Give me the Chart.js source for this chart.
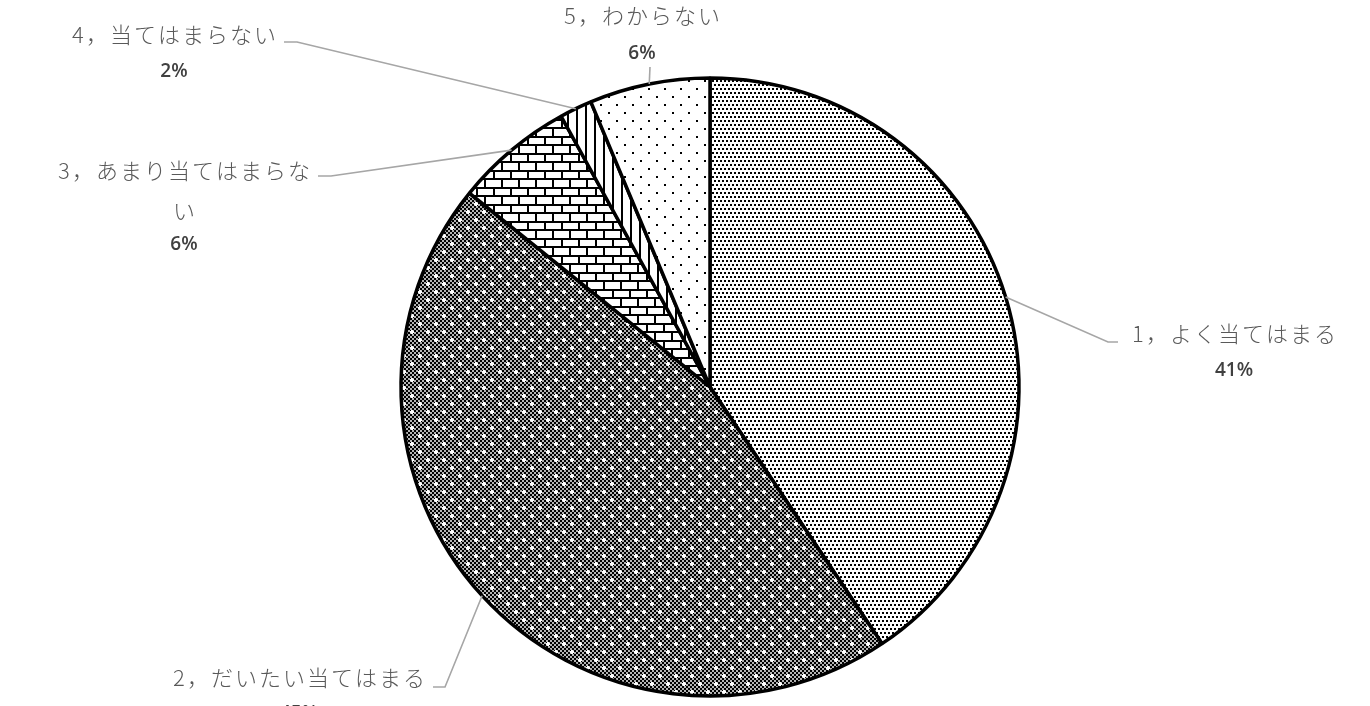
<!DOCTYPE html>
<html lang="ja">
<head>
<meta charset="utf-8">
<script src="https://cdn.jsdelivr.net/npm/chart.js@4"></script>
<style>
  html, body { margin: 0; padding: 0; background: #fff; }
  #wrap { width: 1370px; height: 706px; position: relative; }
</style>
</head>
<body>
<div id="wrap"><canvas id="chart1"></canvas></div>
<script>
// data (percent of answers)
const categories = ['1，よく当てはまる', '2，だいたい当てはまる', '3，あまり当てはまらない', '4，当てはまらない', '5，わからない'];
const shares = [40.6, 45.2, 6.2, 1.7, 6.3];

// where each data label sits (name centre, percent line, leader elbow)
const labelLayout = [
  { cx: 1234, nameY: 334, pctY: 371, maxW: 400, elbow: [[1108, 342], [1118, 342]] },
  { cx: 299, nameY: 678, pctY: 714, maxW: 400, elbow: [[445, 687], [433, 687]] },
  { cx: 184, nameY: 171, pctY: 245, maxW: 268, elbow: [[331, 176], [318, 176]] },
  { cx: 174, nameY: 35, pctY: 72, maxW: 400, elbow: [[297, 42], [284, 42]] },
  { cx: 642, nameY: 16, pctY: 54, maxW: 400, elbow: [[650, 67]] }
];

function tile(size, bg, draw) {
  const c = document.createElement('canvas');
  c.width = size; c.height = size;
  const g = c.getContext('2d');
  g.fillStyle = bg;
  g.fillRect(0, 0, size, size);
  g.fillStyle = '#000';
  draw(g);
  return document.getElementById('chart1').getContext('2d').createPattern(c, 'repeat');
}

// fine dots
const patFine = tile(8, '#fff', g => {
  for (let y = 0; y < 8; y += 4) {
    for (let x = 0; x < 8; x += 4) {
      g.fillRect(x + (y % 8 ? 2 : 0), y, 2, 2);
    }
  }
});
// dark checker with small white crosses
const patDark = tile(16, '#b4b4b4', g => {
  for (let y = 0; y < 16; y += 2) {
    for (let x = 0; x < 16; x += 2) {
      if (((x + y) / 2) % 2 === 0) g.fillRect(x, y, 2, 2);
    }
  }
  g.fillStyle = '#fff';
  [[4, 4], [12, 12]].forEach(([x, y]) => {
    g.fillRect(x - 2, y - 1, 4, 2);
    g.fillRect(x - 1, y - 2, 2, 4);
  });
});
// bricks
const patBrick = tile(17, '#fff', g => {
  g.fillRect(0, 0, 17, 2);
  g.fillRect(0, 8, 17, 2);
  g.fillRect(0, 2, 2, 6);
  g.fillRect(8, 10, 2, 7);
});
// vertical lines
const patVert = tile(9, '#fff', g => {
  g.fillRect(0, 0, 2, 9);
});
// sparse dots
const patSparse = tile(16, '#fff', g => {
  g.fillRect(0, 0, 2, 2);
  g.fillRect(8, 8, 2, 2);
});

const total = shares.reduce((a, b) => a + b, 0);
const pctLabels = shares.map(v => Math.round(v / total * 100) + '%');

function wrapText(ctx, text, maxW) {
  const lines = [];
  let cur = '';
  for (const ch of text) {
    if (cur && ctx.measureText(cur + ch).width > maxW) {
      lines.push(cur);
      cur = ch;
    } else {
      cur += ch;
    }
  }
  if (cur) lines.push(cur);
  return lines;
}

const calloutPlugin = {
  id: 'callouts',
  afterDatasetsDraw(chart) {
    const ctx = chart.ctx;
    const meta = chart.getDatasetMeta(0);
    ctx.save();
    meta.data.forEach((arc, i) => {
      const lay = labelLayout[i];
      const mid = (arc.startAngle + arc.endAngle) / 2;
      const px = arc.x + Math.cos(mid) * arc.outerRadius;
      const py = arc.y + Math.sin(mid) * arc.outerRadius;

      ctx.strokeStyle = '#a6a6a6';
      ctx.lineWidth = 1.6;
      ctx.beginPath();
      ctx.moveTo(px, py);
      lay.elbow.forEach(p => ctx.lineTo(p[0], p[1]));
      ctx.stroke();

      ctx.textAlign = 'center';
      ctx.textBaseline = 'middle';
      ctx.fillStyle = '#595959';
      ctx.font = '300 22px "Noto Sans CJK JP"';
      ctx.letterSpacing = '2px';
      const lines = wrapText(ctx, categories[i], lay.maxW);
      lines.forEach((ln, k) => ctx.fillText(ln, lay.cx + 1, lay.nameY + k * 40));

      ctx.letterSpacing = '0px';
      ctx.fillStyle = '#404040';
      ctx.font = '600 19px "Open Sans"';
      ctx.fillText(pctLabels[i], lay.cx, lay.pctY);
    });
    ctx.restore();
  }
};

const ctx1 = document.getElementById('chart1').getContext('2d');
const chart1 = new Chart(ctx1, {
  type: 'pie',
  data: {
    labels: categories,
    datasets: [{
      data: shares,
      backgroundColor: [patFine, patDark, patBrick, patVert, patSparse],
      borderColor: '#000',
      borderWidth: 3.5
    }]
  },
  options: {
    responsive: true,
    maintainAspectRatio: false,
    animation: false,
    events: [],
    radius: 309,
    layout: { padding: { left: 50, right: 0, top: 68, bottom: 0 } },
    plugins: {
      legend: { display: false },
      tooltip: { enabled: false }
    }
  },
  plugins: [calloutPlugin]
});
</script>
</body>
</html>
